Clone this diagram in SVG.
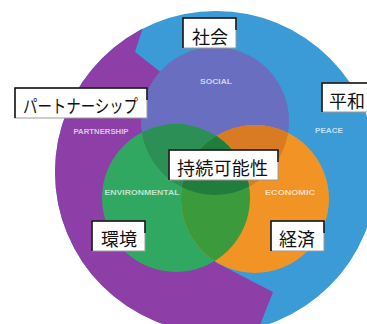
<svg xmlns="http://www.w3.org/2000/svg" width="367" height="324" viewBox="0 0 367 324">
<style>
.box{fill:#fff;stroke:#9a9a9a;stroke-width:1}
.edge{fill:none;stroke:#111;stroke-width:1.5}
.jp{font-family:"Noto Sans CJK JP","Noto Sans CJK SC",sans-serif;font-size:18px;fill:#111}
.en{font-family:"Liberation Sans",Arial,sans-serif;font-size:7px;font-weight:bold;fill:#fff;fill-opacity:0.7;text-anchor:middle}
</style>
<defs>
<clipPath id="big"><circle cx="216" cy="172" r="161"/></clipPath>
<clipPath id="cs"><circle cx="215" cy="121" r="74"/></clipPath>
<clipPath id="cg"><circle cx="176" cy="198" r="74"/></clipPath>
<clipPath id="co"><circle cx="255" cy="199" r="74"/></clipPath>
</defs>
<rect width="367" height="324" fill="#fff"/>
<g id="ring">
<circle cx="216" cy="172" r="161" fill="#3a9bd6"/>
<polygon clip-path="url(#big)" fill="#8d3fa7" points="0,0 152,0 135,52 158,70 215,121 215,262 273,292 258,330 0,330"/>
</g>
<g id="social"><circle cx="215" cy="121" r="74" fill="#6a6ec0"/></g>
<g id="environmental"><circle cx="176" cy="198" r="74" fill="#30a862"/></g>
<g id="economic"><circle cx="255" cy="199" r="74" fill="#f29325"/></g>
<g id="overlaps">
<g clip-path="url(#cs)"><circle cx="176" cy="198" r="74" fill="#2b8f56"/><circle cx="255" cy="199" r="74" fill="#d97b22"/></g>
<g clip-path="url(#cg)"><circle cx="255" cy="199" r="74" fill="#3a9a3c"/></g>
<g clip-path="url(#cs)"><g clip-path="url(#cg)"><circle cx="255" cy="199" r="74" fill="#217d3c"/></g></g>
</g>
<g id="en-labels">
<text class="en" x="216" y="84" textLength="32" lengthAdjust="spacingAndGlyphs">SOCIAL</text>
<text class="en" x="101" y="134" textLength="55" lengthAdjust="spacingAndGlyphs">PARTNERSHIP</text>
<text class="en" x="329" y="133" textLength="28" lengthAdjust="spacingAndGlyphs">PEACE</text>
<text class="en" x="142" y="195" textLength="75" lengthAdjust="spacingAndGlyphs">ENVIRONMENTAL</text>
<text class="en" x="290" y="195" textLength="50" lengthAdjust="spacingAndGlyphs">ECONOMIC</text>
</g>
<g id="label-shakai">
<rect class="box" x="183" y="18" width="53" height="30"/>
<path class="edge" d="M183,48V18H236V30"/>
<text class="jp" x="192" y="44">社会</text>
</g>
<g id="label-partnership">
<rect class="box" x="15" y="88" width="132" height="30"/>
<path class="edge" d="M15,118V88H147V100"/>
<text class="jp" x="23" y="113" textLength="115" lengthAdjust="spacingAndGlyphs">パートナーシップ</text>
</g>
<g id="label-heiwa">
<rect class="box" x="322" y="83" width="50" height="29"/>
<path class="edge" d="M322,112V83H370"/>
<text class="jp" x="329" y="108">平和</text>
</g>
<g id="label-jizoku">
<rect class="box" x="169" y="150" width="109" height="30"/>
<path class="edge" d="M169,180V150H278V162"/>
<text class="jp" x="177" y="175" textLength="91">持続可能性</text>
</g>
<g id="label-kankyo">
<rect class="box" x="92" y="221" width="53" height="30"/>
<path class="edge" d="M92,251V221H145V233"/>
<text class="jp" x="101" y="246">環境</text>
</g>
<g id="label-keizai">
<rect class="box" x="271" y="221" width="53" height="30"/>
<path class="edge" d="M271,251V221H324V233"/>
<text class="jp" x="279" y="246">経済</text>
</g>
</svg>
